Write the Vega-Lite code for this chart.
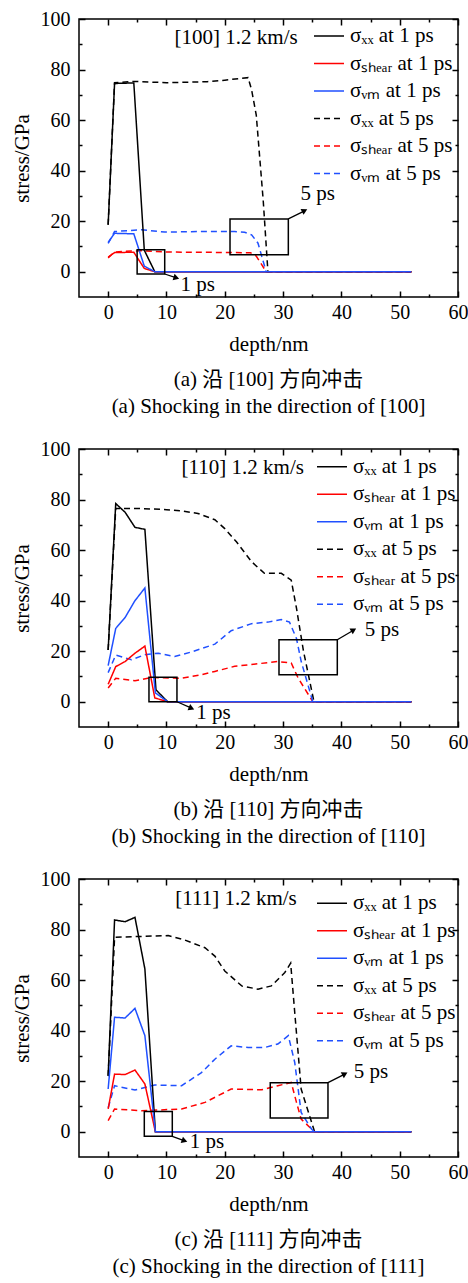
{
"$schema": "https://vega.github.io/schema/vega-lite/v6.json",
"padding": {"left": 10, "top": 8, "right": 5, "bottom": 5},
"spacing": 20,
"resolve": {"scale": {"color": "independent", "strokeDash": "independent"}, "legend": {"color": "independent", "strokeDash": "independent"}},
"datasets": {
"a": [
{"s":"σₓₓ at 5 ps","d":0,"v":18.6},{"s":"σₓₓ at 5 ps","d":1.1,"v":74.8},{"s":"σₓₓ at 5 ps","d":4.4,"v":75.3},{"s":"σₓₓ at 5 ps","d":10,"v":74.8},{"s":"σₓₓ at 5 ps","d":17,"v":75.2},{"s":"σₓₓ at 5 ps","d":20,"v":75.8},{"s":"σₓₓ at 5 ps","d":24,"v":76.8},{"s":"σₓₓ at 5 ps","d":24.6,"v":72},{"s":"σₓₓ at 5 ps","d":25.4,"v":62},{"s":"σₓₓ at 5 ps","d":26.6,"v":28},{"s":"σₓₓ at 5 ps","d":27.4,"v":0},{"s":"σₓₓ at 5 ps","d":30,"v":0},{"s":"σₓₓ at 5 ps","d":35,"v":0},{"s":"σₓₓ at 5 ps","d":40,"v":0},{"s":"σₓₓ at 5 ps","d":45,"v":0},{"s":"σₓₓ at 5 ps","d":52,"v":0},
{"s":"σₛₕₑₐᵣ at 5 ps","d":0,"v":5.5},{"s":"σₛₕₑₐᵣ at 5 ps","d":1.1,"v":7.8},{"s":"σₛₕₑₐᵣ at 5 ps","d":4,"v":8.2},{"s":"σₛₕₑₐᵣ at 5 ps","d":5.7,"v":8.3},{"s":"σₛₕₑₐᵣ at 5 ps","d":10,"v":7.8},{"s":"σₛₕₑₐᵣ at 5 ps","d":16,"v":7.7},{"s":"σₛₕₑₐᵣ at 5 ps","d":24.4,"v":7.5},{"s":"σₛₕₑₐᵣ at 5 ps","d":25.4,"v":6.2},{"s":"σₛₕₑₐᵣ at 5 ps","d":27.1,"v":0},{"s":"σₛₕₑₐᵣ at 5 ps","d":30,"v":0},{"s":"σₛₕₑₐᵣ at 5 ps","d":35,"v":0},{"s":"σₛₕₑₐᵣ at 5 ps","d":40,"v":0},{"s":"σₛₕₑₐᵣ at 5 ps","d":45,"v":0},{"s":"σₛₕₑₐᵣ at 5 ps","d":52,"v":0},
{"s":"σᵥₘ at 5 ps","d":0,"v":11.2},{"s":"σᵥₘ at 5 ps","d":1.1,"v":15.9},{"s":"σᵥₘ at 5 ps","d":5.7,"v":16.6},{"s":"σᵥₘ at 5 ps","d":9.7,"v":15.7},{"s":"σᵥₘ at 5 ps","d":16,"v":15.9},{"s":"σᵥₘ at 5 ps","d":21.7,"v":15.9},{"s":"σᵥₘ at 5 ps","d":23.4,"v":15.6},{"s":"σᵥₘ at 5 ps","d":24.6,"v":14.6},{"s":"σᵥₘ at 5 ps","d":25.7,"v":11.3},{"s":"σᵥₘ at 5 ps","d":27.1,"v":0},{"s":"σᵥₘ at 5 ps","d":30,"v":0},{"s":"σᵥₘ at 5 ps","d":35,"v":0},{"s":"σᵥₘ at 5 ps","d":40,"v":0},{"s":"σᵥₘ at 5 ps","d":45,"v":0},{"s":"σᵥₘ at 5 ps","d":52,"v":0},
{"s":"σₓₓ at 1 ps","d":0,"v":18.6},{"s":"σₓₓ at 1 ps","d":1.1,"v":74.5},{"s":"σₓₓ at 1 ps","d":4.4,"v":74.7},{"s":"σₓₓ at 1 ps","d":6.2,"v":8.5},{"s":"σₓₓ at 1 ps","d":8,"v":0},{"s":"σₓₓ at 1 ps","d":10,"v":0},{"s":"σₓₓ at 1 ps","d":20,"v":0},{"s":"σₓₓ at 1 ps","d":30,"v":0},{"s":"σₓₓ at 1 ps","d":40,"v":0},{"s":"σₓₓ at 1 ps","d":52,"v":0},
{"s":"σₛₕₑₐᵣ at 1 ps","d":0,"v":5.8},{"s":"σₛₕₑₐᵣ at 1 ps","d":1.1,"v":7.6},{"s":"σₛₕₑₐᵣ at 1 ps","d":4.4,"v":7.7},{"s":"σₛₕₑₐᵣ at 1 ps","d":6.2,"v":1.3},{"s":"σₛₕₑₐᵣ at 1 ps","d":8,"v":0},{"s":"σₛₕₑₐᵣ at 1 ps","d":10,"v":0},{"s":"σₛₕₑₐᵣ at 1 ps","d":20,"v":0},{"s":"σₛₕₑₐᵣ at 1 ps","d":30,"v":0},{"s":"σₛₕₑₐᵣ at 1 ps","d":40,"v":0},{"s":"σₛₕₑₐᵣ at 1 ps","d":52,"v":0},
{"s":"σᵥₘ at 1 ps","d":0,"v":11.6},{"s":"σᵥₘ at 1 ps","d":1.1,"v":15.2},{"s":"σᵥₘ at 1 ps","d":4.4,"v":15},{"s":"σᵥₘ at 1 ps","d":6.2,"v":2.2},{"s":"σᵥₘ at 1 ps","d":8,"v":0},{"s":"σᵥₘ at 1 ps","d":10,"v":0},{"s":"σᵥₘ at 1 ps","d":20,"v":0},{"s":"σᵥₘ at 1 ps","d":30,"v":0},{"s":"σᵥₘ at 1 ps","d":40,"v":0},{"s":"σᵥₘ at 1 ps","d":52,"v":0}
],
"b": [
{"s":"σₓₓ at 5 ps","d":0,"v":20.5},{"s":"σₓₓ at 5 ps","d":1.3,"v":76.5},{"s":"σₓₓ at 5 ps","d":5,"v":76.5},{"s":"σₓₓ at 5 ps","d":10,"v":76},{"s":"σₓₓ at 5 ps","d":12.6,"v":75.5},{"s":"σₓₓ at 5 ps","d":15.4,"v":74.5},{"s":"σₓₓ at 5 ps","d":18.3,"v":72},{"s":"σₓₓ at 5 ps","d":20,"v":68.5},{"s":"σₓₓ at 5 ps","d":22,"v":63.3},{"s":"σₓₓ at 5 ps","d":24.6,"v":55.4},{"s":"σₓₓ at 5 ps","d":26.8,"v":50.8},{"s":"σₓₓ at 5 ps","d":29.7,"v":50.8},{"s":"σₓₓ at 5 ps","d":31.4,"v":48.1},{"s":"σₓₓ at 5 ps","d":32.3,"v":37},{"s":"σₓₓ at 5 ps","d":33.5,"v":20},{"s":"σₓₓ at 5 ps","d":35.3,"v":0},{"s":"σₓₓ at 5 ps","d":40,"v":0},{"s":"σₓₓ at 5 ps","d":45,"v":0},{"s":"σₓₓ at 5 ps","d":52,"v":0},
{"s":"σₛₕₑₐᵣ at 5 ps","d":0,"v":5.4},{"s":"σₛₕₑₐᵣ at 5 ps","d":1.3,"v":9.3},{"s":"σₛₕₑₐᵣ at 5 ps","d":4.6,"v":8.3},{"s":"σₛₕₑₐᵣ at 5 ps","d":7.4,"v":9.6},{"s":"σₛₕₑₐᵣ at 5 ps","d":12.6,"v":9.3},{"s":"σₛₕₑₐᵣ at 5 ps","d":16,"v":10.7},{"s":"σₛₕₑₐᵣ at 5 ps","d":18.3,"v":12},{"s":"σₛₕₑₐᵣ at 5 ps","d":21.7,"v":14},{"s":"σₛₕₑₐᵣ at 5 ps","d":24,"v":14.6},{"s":"σₛₕₑₐᵣ at 5 ps","d":29.1,"v":15.9},{"s":"σₛₕₑₐᵣ at 5 ps","d":31.4,"v":15.3},{"s":"σₛₕₑₐᵣ at 5 ps","d":32.6,"v":9.3},{"s":"σₛₕₑₐᵣ at 5 ps","d":35.1,"v":0},{"s":"σₛₕₑₐᵣ at 5 ps","d":40,"v":0},{"s":"σₛₕₑₐᵣ at 5 ps","d":45,"v":0},{"s":"σₛₕₑₐᵣ at 5 ps","d":52,"v":0},
{"s":"σᵥₘ at 5 ps","d":0,"v":11.5},{"s":"σᵥₘ at 5 ps","d":1.3,"v":18.5},{"s":"σᵥₘ at 5 ps","d":4,"v":16.6},{"s":"σᵥₘ at 5 ps","d":6.3,"v":18.6},{"s":"σᵥₘ at 5 ps","d":8.6,"v":19.2},{"s":"σᵥₘ at 5 ps","d":11.4,"v":17.9},{"s":"σᵥₘ at 5 ps","d":14.3,"v":19.7},{"s":"σᵥₘ at 5 ps","d":18.3,"v":22.8},{"s":"σᵥₘ at 5 ps","d":21.1,"v":28.1},{"s":"σᵥₘ at 5 ps","d":24.6,"v":30.9},{"s":"σᵥₘ at 5 ps","d":27.4,"v":31.5},{"s":"σᵥₘ at 5 ps","d":29.7,"v":32.5},{"s":"σᵥₘ at 5 ps","d":31.1,"v":31.5},{"s":"σᵥₘ at 5 ps","d":32.3,"v":25},{"s":"σᵥₘ at 5 ps","d":33.1,"v":16},{"s":"σᵥₘ at 5 ps","d":35.1,"v":0},{"s":"σᵥₘ at 5 ps","d":40,"v":0},{"s":"σᵥₘ at 5 ps","d":45,"v":0},{"s":"σᵥₘ at 5 ps","d":52,"v":0},
{"s":"σₓₓ at 1 ps","d":0,"v":20.5},{"s":"σₓₓ at 1 ps","d":1.3,"v":78.4},{"s":"σₓₓ at 1 ps","d":2.9,"v":75},{"s":"σₓₓ at 1 ps","d":4.6,"v":69},{"s":"σₓₓ at 1 ps","d":6.3,"v":68.2},{"s":"σₓₓ at 1 ps","d":8.2,"v":4.7},{"s":"σₓₓ at 1 ps","d":10.2,"v":0},{"s":"σₓₓ at 1 ps","d":20,"v":0},{"s":"σₓₓ at 1 ps","d":30,"v":0},{"s":"σₓₓ at 1 ps","d":40,"v":0},{"s":"σₓₓ at 1 ps","d":52,"v":0},
{"s":"σₛₕₑₐᵣ at 1 ps","d":0,"v":6.9},{"s":"σₛₕₑₐᵣ at 1 ps","d":1.3,"v":13.9},{"s":"σₛₕₑₐᵣ at 1 ps","d":2.9,"v":15.9},{"s":"σₛₕₑₐᵣ at 1 ps","d":4.6,"v":19.2},{"s":"σₛₕₑₐᵣ at 1 ps","d":6.3,"v":22},{"s":"σₛₕₑₐᵣ at 1 ps","d":8,"v":1.5},{"s":"σₛₕₑₐᵣ at 1 ps","d":10.2,"v":0},{"s":"σₛₕₑₐᵣ at 1 ps","d":20,"v":0},{"s":"σₛₕₑₐᵣ at 1 ps","d":30,"v":0},{"s":"σₛₕₑₐᵣ at 1 ps","d":40,"v":0},{"s":"σₛₕₑₐᵣ at 1 ps","d":52,"v":0},
{"s":"σᵥₘ at 1 ps","d":0,"v":14.3},{"s":"σᵥₘ at 1 ps","d":1.3,"v":29},{"s":"σᵥₘ at 1 ps","d":2.9,"v":33.3},{"s":"σᵥₘ at 1 ps","d":4.6,"v":40},{"s":"σᵥₘ at 1 ps","d":6.3,"v":45},{"s":"σᵥₘ at 1 ps","d":8.1,"v":3.5},{"s":"σᵥₘ at 1 ps","d":10.2,"v":0},{"s":"σᵥₘ at 1 ps","d":20,"v":0},{"s":"σᵥₘ at 1 ps","d":30,"v":0},{"s":"σᵥₘ at 1 ps","d":40,"v":0},{"s":"σᵥₘ at 1 ps","d":52,"v":0}
],
"c": [
{"s":"σₓₓ at 5 ps","d":0,"v":22},{"s":"σₓₓ at 5 ps","d":1.1,"v":76.9},{"s":"σₓₓ at 5 ps","d":4.6,"v":77.2},{"s":"σₓₓ at 5 ps","d":10.3,"v":77.6},{"s":"σₓₓ at 5 ps","d":13.1,"v":75.9},{"s":"σₓₓ at 5 ps","d":16.6,"v":72.8},{"s":"σₓₓ at 5 ps","d":18.3,"v":69.5},{"s":"σₓₓ at 5 ps","d":20,"v":63.6},{"s":"σₓₓ at 5 ps","d":22.9,"v":57.7},{"s":"σₓₓ at 5 ps","d":25.7,"v":56.4},{"s":"σₓₓ at 5 ps","d":28,"v":57.7},{"s":"σₓₓ at 5 ps","d":30.3,"v":63},{"s":"σₓₓ at 5 ps","d":31.3,"v":66.7},{"s":"σₓₓ at 5 ps","d":32,"v":47.2},{"s":"σₓₓ at 5 ps","d":33.1,"v":16.9},{"s":"σₓₓ at 5 ps","d":35.4,"v":0},{"s":"σₓₓ at 5 ps","d":40,"v":0},{"s":"σₓₓ at 5 ps","d":45,"v":0},{"s":"σₓₓ at 5 ps","d":52,"v":0},
{"s":"σₛₕₑₐᵣ at 5 ps","d":0,"v":4.4},{"s":"σₛₕₑₐᵣ at 5 ps","d":1.1,"v":9},{"s":"σₛₕₑₐᵣ at 5 ps","d":5.7,"v":8.3},{"s":"σₛₕₑₐᵣ at 5 ps","d":12.6,"v":9},{"s":"σₛₕₑₐᵣ at 5 ps","d":16.6,"v":11.6},{"s":"σₛₕₑₐᵣ at 5 ps","d":21.1,"v":16.9},{"s":"σₛₕₑₐᵣ at 5 ps","d":26.3,"v":16.6},{"s":"σₛₕₑₐᵣ at 5 ps","d":29.1,"v":18.2},{"s":"σₛₕₑₐᵣ at 5 ps","d":31.4,"v":19.5},{"s":"σₛₕₑₐᵣ at 5 ps","d":32.3,"v":11.6},{"s":"σₛₕₑₐᵣ at 5 ps","d":33.1,"v":5},{"s":"σₛₕₑₐᵣ at 5 ps","d":34.6,"v":1.7},{"s":"σₛₕₑₐᵣ at 5 ps","d":35.4,"v":0},{"s":"σₛₕₑₐᵣ at 5 ps","d":40,"v":0},{"s":"σₛₕₑₐᵣ at 5 ps","d":45,"v":0},{"s":"σₛₕₑₐᵣ at 5 ps","d":52,"v":0},
{"s":"σᵥₘ at 5 ps","d":0,"v":9.5},{"s":"σᵥₘ at 5 ps","d":1.1,"v":18.2},{"s":"σᵥₘ at 5 ps","d":4.6,"v":16.5},{"s":"σᵥₘ at 5 ps","d":8,"v":18.5},{"s":"σᵥₘ at 5 ps","d":12.6,"v":18.2},{"s":"σᵥₘ at 5 ps","d":16,"v":23.4},{"s":"σᵥₘ at 5 ps","d":18.3,"v":28.7},{"s":"σᵥₘ at 5 ps","d":21.1,"v":34},{"s":"σᵥₘ at 5 ps","d":24,"v":33.3},{"s":"σᵥₘ at 5 ps","d":26.8,"v":33.3},{"s":"σᵥₘ at 5 ps","d":29.1,"v":34.7},{"s":"σᵥₘ at 5 ps","d":30.9,"v":38},{"s":"σᵥₘ at 5 ps","d":32,"v":27.4},{"s":"σᵥₘ at 5 ps","d":33.1,"v":7.6},{"s":"σᵥₘ at 5 ps","d":34.9,"v":1},{"s":"σᵥₘ at 5 ps","d":35.4,"v":0},{"s":"σᵥₘ at 5 ps","d":40,"v":0},{"s":"σᵥₘ at 5 ps","d":45,"v":0},{"s":"σᵥₘ at 5 ps","d":52,"v":0},
{"s":"σₓₓ at 1 ps","d":0,"v":22.2},{"s":"σₓₓ at 1 ps","d":1.1,"v":83.8},{"s":"σₓₓ at 1 ps","d":2.9,"v":83.1},{"s":"σₓₓ at 1 ps","d":4.6,"v":84.8},{"s":"σₓₓ at 1 ps","d":6.3,"v":64.4},{"s":"σₓₓ at 1 ps","d":8.1,"v":0},{"s":"σₓₓ at 1 ps","d":10,"v":0},{"s":"σₓₓ at 1 ps","d":20,"v":0},{"s":"σₓₓ at 1 ps","d":30,"v":0},{"s":"σₓₓ at 1 ps","d":40,"v":0},{"s":"σₓₓ at 1 ps","d":52,"v":0},
{"s":"σₛₕₑₐᵣ at 1 ps","d":0,"v":9},{"s":"σₛₕₑₐᵣ at 1 ps","d":1.1,"v":22.8},{"s":"σₛₕₑₐᵣ at 1 ps","d":2.9,"v":22.6},{"s":"σₛₕₑₐᵣ at 1 ps","d":4.6,"v":24.4},{"s":"σₛₕₑₐᵣ at 1 ps","d":6.3,"v":18.9},{"s":"σₛₕₑₐᵣ at 1 ps","d":8.1,"v":0},{"s":"σₛₕₑₐᵣ at 1 ps","d":10,"v":0},{"s":"σₛₕₑₐᵣ at 1 ps","d":20,"v":0},{"s":"σₛₕₑₐᵣ at 1 ps","d":30,"v":0},{"s":"σₛₕₑₐᵣ at 1 ps","d":40,"v":0},{"s":"σₛₕₑₐᵣ at 1 ps","d":52,"v":0},
{"s":"σᵥₘ at 1 ps","d":0,"v":16.9},{"s":"σᵥₘ at 1 ps","d":1.1,"v":45.3},{"s":"σᵥₘ at 1 ps","d":2.9,"v":45},{"s":"σᵥₘ at 1 ps","d":4.6,"v":48.8},{"s":"σᵥₘ at 1 ps","d":6.3,"v":38},{"s":"σᵥₘ at 1 ps","d":8.1,"v":0},{"s":"σᵥₘ at 1 ps","d":10,"v":0},{"s":"σᵥₘ at 1 ps","d":20,"v":0},{"s":"σᵥₘ at 1 ps","d":30,"v":0},{"s":"σᵥₘ at 1 ps","d":40,"v":0},{"s":"σᵥₘ at 1 ps","d":52,"v":0}
]
},
"vconcat": [
{
"width": 379, "height": 278,
"title": {"text": "(a) 沿 [100] 方向冲击", "subtitle": "(a) Shocking in the direction of [100]"},
"resolve": {"axis": {"x": "independent", "y": "independent"}},
"layer": [
{"data": {"name": "a"}, "transform": [{"filter": "datum.s !== 'σᵥₘ at 1 ps'"}], "mark": {"type": "line", "strokeWidth": 1.5},
 "encoding": {
  "x": {"field": "d", "type": "quantitative", "scale": {"domain": [-5, 60], "nice": false, "zero": false},
        "axis": {"orient": "bottom", "values": [0,5,10,15,20,25,30,35,40,45,50,55,60], "labelExpr": "datum.value % 10 === 0 ? datum.label : ''", "tickSize": {"condition": {"test": "datum.value % 10 === 0", "value": -6}, "value": -3}, "title": "depth/nm", "labelPadding": 11, "titlePadding": 8}},
  "y": {"field": "v", "type": "quantitative", "scale": {"domain": [-10, 100], "nice": false, "zero": false},
        "axis": {"orient": "left", "values": [0,10,20,30,40,50,60,70,80,90,100], "labelExpr": "datum.value % 20 === 0 ? datum.label : ''", "tickSize": {"condition": {"test": "datum.value % 20 === 0", "value": -6}, "value": -3}, "title": "stress/GPa", "labelPadding": 15, "titlePadding": 8}},
  "color": {"field": "s", "type": "nominal", "scale": {"domain": ["σₓₓ at 1 ps","σₛₕₑₐᵣ at 1 ps","σᵥₘ at 1 ps","σₓₓ at 5 ps","σₛₕₑₐᵣ at 5 ps","σᵥₘ at 5 ps"], "range": ["#000000","#ff0000","#2050ff","#000000","#ff0000","#2050ff"]},
            "legend": {"title": null, "orient": "none", "legendX": 234, "legendY": 1}},
  "strokeDash": {"field": "s", "type": "nominal", "scale": {"domain": ["σₓₓ at 1 ps","σₛₕₑₐᵣ at 1 ps","σᵥₘ at 1 ps","σₓₓ at 5 ps","σₛₕₑₐᵣ at 5 ps","σᵥₘ at 5 ps"], "range": [[1,0],[1,0],[1,0],[6,4],[6,4],[6,4]]},
            "legend": {"title": null, "orient": "none", "legendX": 234, "legendY": 1}}
 }},
{"data": {"name": "a"}, "transform": [{"filter": "datum.s === 'σᵥₘ at 1 ps'"}], "mark": {"type": "line", "strokeWidth": 1.5},
 "encoding": {
  "x": {"field": "d", "type": "quantitative", "scale": {"domain": [-5, 60], "nice": false, "zero": false}, "axis": null},
  "y": {"field": "v", "type": "quantitative", "scale": {"domain": [-10, 100], "nice": false, "zero": false}, "axis": null},
  "color": {"field": "s", "type": "nominal"},
  "strokeDash": {"field": "s", "type": "nominal"}
 }},
{"data": {"values": [{"x": 4.97, "x2": 9.7, "y": -0.9, "y2": 8.7}, {"x": 20.9, "x2": 30.9, "y": 6.7, "y2": 20.9}]},
 "mark": {"type": "rect", "filled": false, "color": "black", "strokeWidth": 1.5},
 "encoding": {
  "x": {"field": "x", "type": "quantitative", "scale": {"domain": [-5, 60], "nice": false, "zero": false},
        "axis": {"orient": "top", "values": [0,5,10,15,20,25,30,35,40,45,50,55,60], "labels": false, "tickSize": {"condition": {"test": "datum.value % 10 === 0", "value": -6}, "value": -3}, "title": null}},
  "x2": {"field": "x2"},
  "y": {"field": "y", "type": "quantitative", "scale": {"domain": [-10, 100], "nice": false, "zero": false},
        "axis": {"orient": "right", "values": [0,10,20,30,40,50,60,70,80,90,100], "labels": false, "tickSize": {"condition": {"test": "datum.value % 20 === 0", "value": -6}, "value": -3}, "title": null}},
  "y2": {"field": "y2"}
 }},
{"data": {"values": [{"x": 9.7, "y": -0.9, "x2": 11.6, "y2": -2.3}, {"x": 30.9, "y": 20.9, "x2": 33.6, "y2": 24.0}]},
 "mark": {"type": "rule", "color": "black", "strokeWidth": 1.3},
 "encoding": {
  "x": {"field": "x", "type": "quantitative", "scale": {"domain": [-5, 60], "nice": false, "zero": false}, "axis": null},
  "x2": {"field": "x2"},
  "y": {"field": "y", "type": "quantitative", "scale": {"domain": [-10, 100], "nice": false, "zero": false}, "axis": null},
  "y2": {"field": "y2"}
 }},
{"data": {"values": [{"x": 11.7, "y": -2.4}]},
 "mark": {"type": "point", "shape": "triangle-up", "filled": true, "color": "black", "size": 45, "angle": 107, "opacity": 1},
 "encoding": {
  "x": {"field": "x", "type": "quantitative", "scale": {"domain": [-5, 60], "nice": false, "zero": false}, "axis": null},
  "y": {"field": "y", "type": "quantitative", "scale": {"domain": [-10, 100], "nice": false, "zero": false}, "axis": null}
 }},
{"data": {"values": [{"x": 33.7, "y": 24.2}]},
 "mark": {"type": "point", "shape": "triangle-up", "filled": true, "color": "black", "size": 45, "angle": 63, "opacity": 1},
 "encoding": {
  "x": {"field": "x", "type": "quantitative", "scale": {"domain": [-5, 60], "nice": false, "zero": false}, "axis": null},
  "y": {"field": "y", "type": "quantitative", "scale": {"domain": [-10, 100], "nice": false, "zero": false}, "axis": null}
 }},
{"data": {"values": [{"t": "[100] 1.2 km/s", "x": 11.4, "y": 92.4}, {"t": "1 ps", "x": 12.4, "y": -5.1}, {"t": "5 ps", "x": 33, "y": 30.7}]},
 "mark": {"type": "text", "align": "left", "baseline": "middle", "font": "Liberation Serif", "fontSize": 21, "color": "black"},
 "encoding": {
  "x": {"field": "x", "type": "quantitative", "scale": {"domain": [-5, 60], "nice": false, "zero": false}, "axis": null},
  "y": {"field": "y", "type": "quantitative", "scale": {"domain": [-10, 100], "nice": false, "zero": false}, "axis": null},
  "text": {"field": "t"}
 }}
]
},
{
"width": 379, "height": 278,
"title": {"text": "(b) 沿 [110] 方向冲击", "subtitle": "(b) Shocking in the direction of [110]"},
"resolve": {"axis": {"x": "independent", "y": "independent"}},
"layer": [
{"data": {"name": "b"}, "transform": [{"filter": "datum.s !== 'σᵥₘ at 1 ps'"}], "mark": {"type": "line", "strokeWidth": 1.5},
 "encoding": {
  "x": {"field": "d", "type": "quantitative", "scale": {"domain": [-5, 60], "nice": false, "zero": false},
        "axis": {"orient": "bottom", "values": [0,5,10,15,20,25,30,35,40,45,50,55,60], "labelExpr": "datum.value % 10 === 0 ? datum.label : ''", "tickSize": {"condition": {"test": "datum.value % 10 === 0", "value": -6}, "value": -3}, "title": "depth/nm", "labelPadding": 11, "titlePadding": 8}},
  "y": {"field": "v", "type": "quantitative", "scale": {"domain": [-10, 100], "nice": false, "zero": false},
        "axis": {"orient": "left", "values": [0,10,20,30,40,50,60,70,80,90,100], "labelExpr": "datum.value % 20 === 0 ? datum.label : ''", "tickSize": {"condition": {"test": "datum.value % 20 === 0", "value": -6}, "value": -3}, "title": "stress/GPa", "labelPadding": 15, "titlePadding": 8}},
  "color": {"field": "s", "type": "nominal", "scale": {"domain": ["σₓₓ at 1 ps","σₛₕₑₐᵣ at 1 ps","σᵥₘ at 1 ps","σₓₓ at 5 ps","σₛₕₑₐᵣ at 5 ps","σᵥₘ at 5 ps"], "range": ["#000000","#ff0000","#2050ff","#000000","#ff0000","#2050ff"]},
            "legend": {"title": null, "orient": "none", "legendX": 237, "legendY": 1.7}},
  "strokeDash": {"field": "s", "type": "nominal", "scale": {"domain": ["σₓₓ at 1 ps","σₛₕₑₐᵣ at 1 ps","σᵥₘ at 1 ps","σₓₓ at 5 ps","σₛₕₑₐᵣ at 5 ps","σᵥₘ at 5 ps"], "range": [[1,0],[1,0],[1,0],[6,4],[6,4],[6,4]]},
            "legend": {"title": null, "orient": "none", "legendX": 237, "legendY": 1.7}}
 }},
{"data": {"name": "b"}, "transform": [{"filter": "datum.s === 'σᵥₘ at 1 ps'"}], "mark": {"type": "line", "strokeWidth": 1.5},
 "encoding": {
  "x": {"field": "d", "type": "quantitative", "scale": {"domain": [-5, 60], "nice": false, "zero": false}, "axis": null},
  "y": {"field": "v", "type": "quantitative", "scale": {"domain": [-10, 100], "nice": false, "zero": false}, "axis": null},
  "color": {"field": "s", "type": "nominal"},
  "strokeDash": {"field": "s", "type": "nominal"}
 }},
{"data": {"values": [{"x": 7, "x2": 11.8, "y": 0, "y2": 9.7}, {"x": 29.3, "x2": 39.3, "y": 10.7, "y2": 24.5}]},
 "mark": {"type": "rect", "filled": false, "color": "black", "strokeWidth": 1.5},
 "encoding": {
  "x": {"field": "x", "type": "quantitative", "scale": {"domain": [-5, 60], "nice": false, "zero": false},
        "axis": {"orient": "top", "values": [0,5,10,15,20,25,30,35,40,45,50,55,60], "labels": false, "tickSize": {"condition": {"test": "datum.value % 10 === 0", "value": -6}, "value": -3}, "title": null}},
  "x2": {"field": "x2"},
  "y": {"field": "y", "type": "quantitative", "scale": {"domain": [-10, 100], "nice": false, "zero": false},
        "axis": {"orient": "right", "values": [0,10,20,30,40,50,60,70,80,90,100], "labels": false, "tickSize": {"condition": {"test": "datum.value % 20 === 0", "value": -6}, "value": -3}, "title": null}},
  "y2": {"field": "y2"}
 }},
{"data": {"values": [{"x": 11.8, "y": 0, "x2": 14.2, "y2": -2.4}, {"x": 39.3, "y": 24.5, "x2": 42.0, "y2": 28.2}]},
 "mark": {"type": "rule", "color": "black", "strokeWidth": 1.3},
 "encoding": {
  "x": {"field": "x", "type": "quantitative", "scale": {"domain": [-5, 60], "nice": false, "zero": false}, "axis": null},
  "x2": {"field": "x2"},
  "y": {"field": "y", "type": "quantitative", "scale": {"domain": [-10, 100], "nice": false, "zero": false}, "axis": null},
  "y2": {"field": "y2"}
 }},
{"data": {"values": [{"x": 14.3, "y": -2.6}]},
 "mark": {"type": "point", "shape": "triangle-up", "filled": true, "color": "black", "size": 45, "angle": 113, "opacity": 1},
 "encoding": {
  "x": {"field": "x", "type": "quantitative", "scale": {"domain": [-5, 60], "nice": false, "zero": false}, "axis": null},
  "y": {"field": "y", "type": "quantitative", "scale": {"domain": [-10, 100], "nice": false, "zero": false}, "axis": null}
 }},
{"data": {"values": [{"x": 42.1, "y": 28.4}]},
 "mark": {"type": "point", "shape": "triangle-up", "filled": true, "color": "black", "size": 45, "angle": 60, "opacity": 1},
 "encoding": {
  "x": {"field": "x", "type": "quantitative", "scale": {"domain": [-5, 60], "nice": false, "zero": false}, "axis": null},
  "y": {"field": "y", "type": "quantitative", "scale": {"domain": [-10, 100], "nice": false, "zero": false}, "axis": null}
 }},
{"data": {"values": [{"t": "[110] 1.2 km/s", "x": 12.6, "y": 92.5}, {"t": "1 ps", "x": 15.1, "y": -4.5}, {"t": "5 ps", "x": 44, "y": 28.2}]},
 "mark": {"type": "text", "align": "left", "baseline": "middle", "font": "Liberation Serif", "fontSize": 21, "color": "black"},
 "encoding": {
  "x": {"field": "x", "type": "quantitative", "scale": {"domain": [-5, 60], "nice": false, "zero": false}, "axis": null},
  "y": {"field": "y", "type": "quantitative", "scale": {"domain": [-10, 100], "nice": false, "zero": false}, "axis": null},
  "text": {"field": "t"}
 }}
]
},
{
"width": 379, "height": 278,
"title": {"text": "(c) 沿 [111] 方向冲击", "subtitle": "(c) Shocking in the direction of [111]"},
"resolve": {"axis": {"x": "independent", "y": "independent"}},
"layer": [
{"data": {"name": "c"}, "transform": [{"filter": "datum.s !== 'σᵥₘ at 1 ps'"}], "mark": {"type": "line", "strokeWidth": 1.5},
 "encoding": {
  "x": {"field": "d", "type": "quantitative", "scale": {"domain": [-5, 60], "nice": false, "zero": false},
        "axis": {"orient": "bottom", "values": [0,5,10,15,20,25,30,35,40,45,50,55,60], "labelExpr": "datum.value % 10 === 0 ? datum.label : ''", "tickSize": {"condition": {"test": "datum.value % 10 === 0", "value": -6}, "value": -3}, "title": "depth/nm", "labelPadding": 11, "titlePadding": 8}},
  "y": {"field": "v", "type": "quantitative", "scale": {"domain": [-10, 100], "nice": false, "zero": false},
        "axis": {"orient": "left", "values": [0,10,20,30,40,50,60,70,80,90,100], "labelExpr": "datum.value % 20 === 0 ? datum.label : ''", "tickSize": {"condition": {"test": "datum.value % 20 === 0", "value": -6}, "value": -3}, "title": "stress/GPa", "labelPadding": 15, "titlePadding": 8}},
  "color": {"field": "s", "type": "nominal", "scale": {"domain": ["σₓₓ at 1 ps","σₛₕₑₐᵣ at 1 ps","σᵥₘ at 1 ps","σₓₓ at 5 ps","σₛₕₑₐᵣ at 5 ps","σᵥₘ at 5 ps"], "range": ["#000000","#ff0000","#2050ff","#000000","#ff0000","#2050ff"]},
            "legend": {"title": null, "orient": "none", "legendX": 237, "legendY": 8.3}},
  "strokeDash": {"field": "s", "type": "nominal", "scale": {"domain": ["σₓₓ at 1 ps","σₛₕₑₐᵣ at 1 ps","σᵥₘ at 1 ps","σₓₓ at 5 ps","σₛₕₑₐᵣ at 5 ps","σᵥₘ at 5 ps"], "range": [[1,0],[1,0],[1,0],[6,4],[6,4],[6,4]]},
            "legend": {"title": null, "orient": "none", "legendX": 237, "legendY": 8.3}}
 }},
{"data": {"name": "c"}, "transform": [{"filter": "datum.s === 'σᵥₘ at 1 ps'"}], "mark": {"type": "line", "strokeWidth": 1.5},
 "encoding": {
  "x": {"field": "d", "type": "quantitative", "scale": {"domain": [-5, 60], "nice": false, "zero": false}, "axis": null},
  "y": {"field": "v", "type": "quantitative", "scale": {"domain": [-10, 100], "nice": false, "zero": false}, "axis": null},
  "color": {"field": "s", "type": "nominal"},
  "strokeDash": {"field": "s", "type": "nominal"}
 }},
{"data": {"values": [{"x": 6.2, "x2": 11, "y": -1.8, "y2": 8}, {"x": 27.8, "x2": 37.7, "y": 5.4, "y2": 19.4}]},
 "mark": {"type": "rect", "filled": false, "color": "black", "strokeWidth": 1.5},
 "encoding": {
  "x": {"field": "x", "type": "quantitative", "scale": {"domain": [-5, 60], "nice": false, "zero": false},
        "axis": {"orient": "top", "values": [0,5,10,15,20,25,30,35,40,45,50,55,60], "labels": false, "tickSize": {"condition": {"test": "datum.value % 10 === 0", "value": -6}, "value": -3}, "title": null}},
  "x2": {"field": "x2"},
  "y": {"field": "y", "type": "quantitative", "scale": {"domain": [-10, 100], "nice": false, "zero": false},
        "axis": {"orient": "right", "values": [0,10,20,30,40,50,60,70,80,90,100], "labels": false, "tickSize": {"condition": {"test": "datum.value % 20 === 0", "value": -6}, "value": -3}, "title": null}},
  "y2": {"field": "y2"}
 }},
{"data": {"values": [{"x": 11, "y": -1.8, "x2": 13.0, "y2": -3.5}, {"x": 37.7, "y": 19.4, "x2": 40.5, "y2": 22.7}]},
 "mark": {"type": "rule", "color": "black", "strokeWidth": 1.3},
 "encoding": {
  "x": {"field": "x", "type": "quantitative", "scale": {"domain": [-5, 60], "nice": false, "zero": false}, "axis": null},
  "x2": {"field": "x2"},
  "y": {"field": "y", "type": "quantitative", "scale": {"domain": [-10, 100], "nice": false, "zero": false}, "axis": null},
  "y2": {"field": "y2"}
 }},
{"data": {"values": [{"x": 13.1, "y": -3.6}]},
 "mark": {"type": "point", "shape": "triangle-up", "filled": true, "color": "black", "size": 45, "angle": 110, "opacity": 1},
 "encoding": {
  "x": {"field": "x", "type": "quantitative", "scale": {"domain": [-5, 60], "nice": false, "zero": false}, "axis": null},
  "y": {"field": "y", "type": "quantitative", "scale": {"domain": [-10, 100], "nice": false, "zero": false}, "axis": null}
 }},
{"data": {"values": [{"x": 40.6, "y": 22.9}]},
 "mark": {"type": "point", "shape": "triangle-up", "filled": true, "color": "black", "size": 45, "angle": 63, "opacity": 1},
 "encoding": {
  "x": {"field": "x", "type": "quantitative", "scale": {"domain": [-5, 60], "nice": false, "zero": false}, "axis": null},
  "y": {"field": "y", "type": "quantitative", "scale": {"domain": [-10, 100], "nice": false, "zero": false}, "axis": null}
 }},
{"data": {"values": [{"t": "[111] 1.2 km/s", "x": 11.5, "y": 92.1}, {"t": "1 ps", "x": 14, "y": -4}, {"t": "5 ps", "x": 42.1, "y": 23.7}]},
 "mark": {"type": "text", "align": "left", "baseline": "middle", "font": "Liberation Serif", "fontSize": 21, "color": "black"},
 "encoding": {
  "x": {"field": "x", "type": "quantitative", "scale": {"domain": [-5, 60], "nice": false, "zero": false}, "axis": null},
  "y": {"field": "y", "type": "quantitative", "scale": {"domain": [-10, 100], "nice": false, "zero": false}, "axis": null},
  "text": {"field": "t"}
 }}
]
}
],
"config": {
 "font": "Liberation Serif",
 "view": {"stroke": "black", "strokeWidth": 1.5},
 "axis": {"domain": false, "grid": false, "labelFont": "Liberation Serif", "labelFontSize": 20, "labelColor": "black", "labelFlush": false, "labelOverlap": false, "titleFont": "Liberation Serif", "titleFontSize": 21, "titleFontWeight": "normal", "titleColor": "black", "tickColor": "black", "tickWidth": 1.5},
 "legend": {"labelFont": "Liberation Serif", "labelFontSize": 21, "labelColor": "black", "symbolType": "stroke", "symbolSize": 900, "symbolStrokeWidth": 1.5, "labelOffset": 5, "rowPadding": 1.5, "padding": 0, "offset": 0, "labelLimit": 300},
 "title": {"orient": "bottom", "anchor": "middle", "frame": "group", "offset": 15, "font": "Liberation Serif, Noto Sans CJK SC", "fontSize": 21, "fontWeight": "normal", "color": "black", "subtitleFont": "Liberation Serif", "subtitleFontSize": 21, "subtitleColor": "black", "subtitlePadding": 6}
}
}
